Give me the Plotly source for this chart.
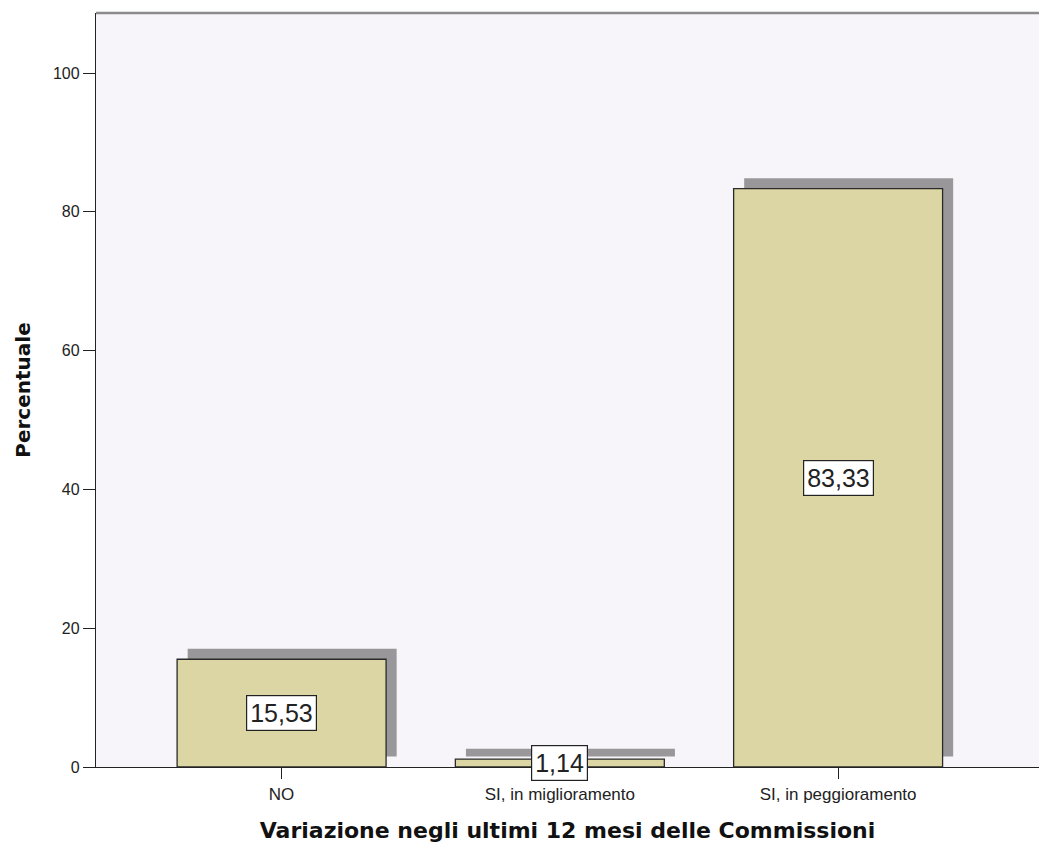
import plotly.graph_objects as go

categories = ["NO", "SI, in miglioramento", "SI, in peggioramento"]
values = [15.53, 1.14, 83.33]
y_ticks = [0, 20, 40, 60, 80, 100]

bar_width = 0.751
shadow_dx = 0.038
shadow_dy = 1.5

TICK_FONT = "Liberation Sans, Arial, sans-serif"
TITLE_FONT = "DejaVu Sans, Verdana, sans-serif"

fig = go.Figure()
# shadow
fig.add_trace(go.Bar(
    x=categories, y=values, base=[shadow_dy] * len(values),
    width=bar_width, offset=-bar_width / 2 + shadow_dx,
    marker=dict(color="#999799", line=dict(width=0)),
    hoverinfo="skip", showlegend=False))
# main bars
fig.add_trace(go.Bar(
    x=categories, y=values,
    width=bar_width, offset=-bar_width / 2,
    marker=dict(color="#DCD5A4", line=dict(color="#2a2a2a", width=1.3)),
    showlegend=False))

for c, v in zip(categories, values):
    fig.add_annotation(
        x=c, y=v / 2, xref="x", yref="y",
        text=f"{v:.2f}".replace(".", ","),
        showarrow=False,
        font=dict(family=TICK_FONT, size=25, color="#222"),
        bgcolor="white", bordercolor="#222", borderwidth=1.2, borderpad=3)

fig.add_shape(type="line", xref="paper", yref="paper", x0=0, x1=1, y0=1, y1=1,
              line=dict(color="#8c8c8c", width=2.5))

fig.update_layout(
    width=1039, height=843,
    margin=dict(l=96, r=0, t=13, b=76),
    barmode="overlay",
    paper_bgcolor="white", plot_bgcolor="#F7F5F9",
    font=dict(family=TICK_FONT, size=16, color="#222"),
    xaxis=dict(
        range=[-0.667, 2.722], showgrid=False, zeroline=False,
        showline=True, linecolor="#222", linewidth=1.3,
        ticks="outside", ticklen=11, tickcolor="#222",
        tickfont=dict(size=17),
        title=dict(text="<b>Variazione negli ultimi 12 mesi delle Commissioni</b>",
                   font=dict(family=TITLE_FONT, size=22, color="#111"), standoff=20)),
    yaxis=dict(
        range=[0, 108.65], showgrid=False, zeroline=False,
        showline=True, linecolor="#222", linewidth=1.3,
        ticks="outside", ticklen=12, tickcolor="#222",
        tickvals=y_ticks, tickfont=dict(size=16),
        title=dict(text="<b>Percentuale</b>",
                   font=dict(family=TITLE_FONT, size=20, color="#111"), standoff=16)),
)

fig.write_html("out.html", config={"displayModeBar": False},
               post_script="document.body.style.margin='0';document.body.style.overflow='hidden';")
